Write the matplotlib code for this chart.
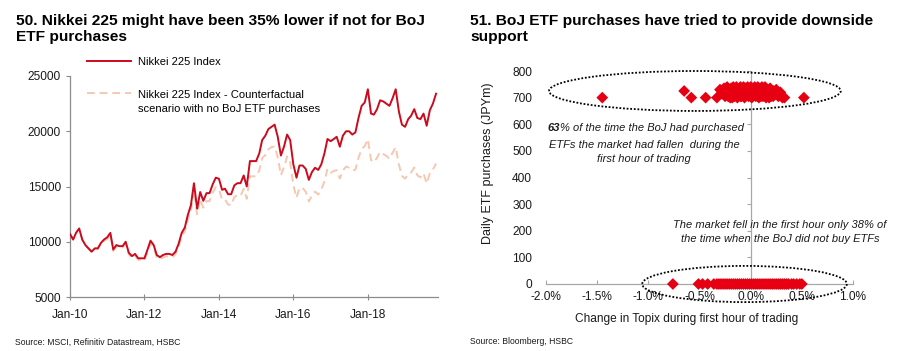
import matplotlib
matplotlib.use("Agg")
import matplotlib.pyplot as plt
import pandas as pd
from matplotlib.patches import Ellipse
from matplotlib.legend_handler import HandlerLine2D
import matplotlib.dates as mdates
import matplotlib.ticker as mticker

plt.rcParams['font.family'] = ['Liberation Sans', 'DejaVu Sans']

# ---------------- data: left chart (monthly levels) ----------------
month_start = "2010-01-01"
month_end = "2019-11-01"
nikkei = [
    10700, 10200, 10800, 11200, 10200, 9700, 9400, 9100, 9400, 9400, 9900, 10200,
    10400, 10800, 9300, 9700, 9600, 9600, 10000, 9000, 8700, 8900, 8500, 8500,
    8500, 9300, 10100, 9700, 8800, 8600, 8800, 8900, 8900, 8800, 9100, 9800,
    10800, 11300, 12400, 13300, 15300, 13000, 14500, 13700, 14400, 14400, 15200, 15800,
    15700, 14700, 14800, 14300, 14300, 15100, 15300, 15300, 16000, 15000, 17300, 17300,
    17300, 18000, 19200, 19600, 20200, 20400, 20600, 19500, 17800, 18600, 19700, 19200,
    17000, 15800, 16900, 16900, 16600, 15600, 16300, 16700, 16500, 17000, 18000, 19300,
    19100, 19300, 19500, 18600, 19600, 20000, 20000, 19700, 19900, 21200, 22300, 22600,
    23800, 21600, 21500, 22000, 22800, 22700, 22500, 22300, 23000, 23800, 21800, 20600,
    20400, 21100, 21400, 22000, 21200, 21100, 21600, 20500, 21900, 22500, 23400,
]
counterfactual = [
    10700, 10200, 10800, 11200, 10200, 9700, 9400, 9100, 9400, 9350, 9850, 10100,
    10240, 10640, 9160, 9550, 9460, 9460, 9850, 8860, 8570, 8770, 8370, 8370,
    8290, 9070, 9850, 9460, 8580, 8390, 8580, 8680, 8680, 8580, 8870, 9550,
    10480, 10960, 11970, 12830, 14690, 12480, 13850, 13080, 13680, 13680, 14440, 14930,
    14760, 13820, 13840, 13370, 13300, 14040, 14230, 14150, 14800, 13880, 15920, 15920,
    15920, 16470, 17570, 17840, 18380, 18560, 18640, 17650, 16020, 16740, 17730, 17180,
    15130, 13980, 14870, 14870, 14530, 13650, 14180, 14530, 14270, 14710, 15480, 16600,
    16240, 16400, 16480, 15720, 16460, 16800, 16700, 16450, 16520, 17600, 18400, 18650,
    19280, 17390, 17200, 17600, 18130, 17930, 17780, 17510, 18060, 18560, 17000, 15970,
    15710, 16140, 16260, 16720, 16010, 15830, 16200, 15270, 16210, 16540, 17080,
]
left_yticks = [5000, 10000, 15000, 20000, 25000]
left_xtick_years = [2010, 2012, 2014, 2016, 2018]

# ---------------- data: right chart ----------------
buy_x = [-1.45, -0.65, -0.58, -0.44, -0.33, -0.30, -0.28, -0.26, -0.25, -0.23,
         -0.22, -0.20, -0.19, -0.18, -0.17, -0.16, -0.15, -0.14, -0.13, -0.12,
         -0.11, -0.10, -0.09, -0.08, -0.07, -0.06, -0.05, -0.04, -0.03, -0.02,
         -0.01, 0.00, 0.01, 0.02, 0.03, 0.04, 0.05, 0.06, 0.07, 0.08,
         0.09, 0.10, 0.11, 0.12, 0.13, 0.14, 0.15, 0.16, 0.18, 0.19,
         0.20, 0.22, 0.24, 0.25, 0.27, 0.29, 0.31, 0.33, 0.52,
         -0.22, -0.18, -0.14, -0.10, -0.06, -0.02, 0.02, 0.06, 0.10, 0.14,
         0.18, -0.12, -0.04, 0.04, 0.12, 0.22, -0.16, 0.08, 0.26, 0.00]
buy_y = [700, 725, 700, 700, 700, 730, 715, 735, 705, 740,
         720, 700, 735, 715, 740, 705, 725, 740, 700, 730,
         715, 740, 705, 725, 740, 700, 735, 715, 740, 705,
         725, 740, 700, 735, 715, 740, 705, 725, 740, 700,
         730, 715, 740, 705, 725, 740, 700, 730, 715, 735,
         705, 725, 715, 730, 705, 720, 700, 700, 700,
         705, 700, 710, 705, 710, 720, 705, 712, 705, 710,
         700, 728, 730, 728, 732, 705, 730, 728, 712, 712]
nobuy_x = [-0.76, -0.51, -0.47, -0.42, -0.36, -0.33, -0.31, -0.29, -0.27, -0.25,
           -0.23, -0.21, -0.19, -0.17, -0.15, -0.13, -0.11, -0.09, -0.07, -0.05,
           -0.03, -0.01, 0.01, 0.03, 0.05, 0.07, 0.09, 0.11, 0.13, 0.15,
           0.17, 0.19, 0.21, 0.23, 0.25, 0.27, 0.29, 0.31, 0.33, 0.35,
           0.37, 0.40, 0.42, 0.45, 0.48, 0.50]
nobuy_y = [0] * len(nobuy_x)
right_xticks = [-2.0, -1.5, -1.0, -0.5, 0.0, 0.5, 1.0]
right_yticks = [0, 100, 200, 300, 400, 500, 600, 700, 800]

# ---------------- figure ----------------
W, H = 900, 351
fig = plt.figure(figsize=(W / 100, H / 100), dpi=100)
fig.patch.set_facecolor("white")

RED = "#CC0A1E"
PEACH = "#F5C8B2"
AXC = "#8C8C8C"
GREY = "#A8A8A8"
TXT = "#1A1A1A"


def fx(px):
    return px / W


def fy(py):
    return 1 - py / H


# titles and sources
fig.text(fx(16), fy(29), "50. Nikkei 225 might have been 35% lower if not for BoJ\nETF purchases",
         fontsize=11.15, fontweight="bold", va="center", ha="left", linespacing=1.13, color="black")
fig.text(fx(470), fy(29), "51. BoJ ETF purchases have tried to provide downside\nsupport",
         fontsize=11.15, fontweight="bold", va="center", ha="left", linespacing=1.13, color="black")
fig.text(fx(15), fy(342), "Source: MSCI, Refinitiv Datastream, HSBC", fontsize=6.2,
         va="center", ha="left", color=TXT)
fig.text(fx(470), fy(342), "Source: Bloomberg, HSBC", fontsize=6.2,
         va="center", ha="left", color=TXT)

# ---------------- left chart ----------------
axl = fig.add_axes([fx(70), fy(297), fx(438 - 70), (297 - 76) / H])
dates = pd.date_range(month_start, month_end, freq="MS")
axl.plot(dates, counterfactual, color=PEACH, lw=1.4, ls=(0, (4, 2.5)),
         label="Nikkei 225 Index - Counterfactual\nscenario with no BoJ ETF purchases", zorder=2)
axl.plot(dates, nikkei, color=RED, lw=1.4,
         label="Nikkei 225 Index", zorder=3)
axl.set_ylim(5000, 25000)
axl.set_xlim(pd.Timestamp("2010-01-01"), pd.Timestamp("2019-11-20"))
axl.set_yticks(left_yticks)
axl.set_xticks([pd.Timestamp(f"{y}-01-01") for y in left_xtick_years])
axl.xaxis.set_major_formatter(mdates.DateFormatter("Jan-%y"))
for s in ["top", "right"]:
    axl.spines[s].set_visible(False)
for s in ["left", "bottom"]:
    axl.spines[s].set_color(AXC)
    axl.spines[s].set_linewidth(0.9)
axl.tick_params(axis="both", colors=AXC, labelcolor=TXT, labelsize=8.6, length=3, width=0.8)
axl.tick_params(axis="x", direction="inout", length=5, pad=6)


class HandlerUp(HandlerLine2D):
    def __init__(self, shift, **kw):
        super().__init__(**kw)
        self.shift = shift

    def create_artists(self, legend, orig_handle, xdescent, ydescent, width, height,
                       fontsize, trans):
        arts = super().create_artists(legend, orig_handle, xdescent, ydescent, width,
                                      height, fontsize, trans)
        for a in arts:
            a.set_ydata([y + self.shift for y in a.get_ydata()])
        return arts


handles, labels = axl.get_legend_handles_labels()
leg = axl.legend(handles[::-1], labels[::-1], loc="upper left",
                 bbox_to_anchor=((87 - 70) / 368, (297 - 57) / 221),
                 frameon=False, fontsize=8, handlelength=4.0, handletextpad=0.6,
                 labelspacing=2.1, borderpad=0, borderaxespad=0,
                 handler_map={handles[0]: HandlerUp(6.5)})
for t in leg.get_texts():
    t.set_linespacing(1.45)

# ---------------- right chart ----------------
axr = fig.add_axes([fx(546), fy(284), fx(853 - 546), (284 - 71) / H])
axr.axvline(0, color=GREY, lw=0.9, zorder=1)
axr.scatter(buy_x, buy_y, marker="D", s=36, color="#E60012", edgecolors="none", zorder=3)
axr.scatter(nobuy_x, nobuy_y, marker="D", s=36, color="#E60012", edgecolors="none",
            zorder=3, clip_on=False)
axr.set_xlim(-2.0, 1.0)
axr.set_ylim(0, 800)
axr.set_xticks(right_xticks)
axr.set_yticks(right_yticks)
axr.xaxis.set_major_formatter(mticker.FuncFormatter(lambda v, p: f"{v:.1f}%"))
for s in ["top", "right", "left"]:
    axr.spines[s].set_visible(False)
axr.spines["bottom"].set_color(GREY)
axr.spines["bottom"].set_linewidth(0.9)
axr.tick_params(axis="x", direction="in", colors=GREY, labelcolor=TXT,
                labelsize=8.6, length=3, pad=5)
axr.tick_params(axis="y", length=0, labelsize=8.6, labelcolor=TXT, pad=10)
# tick marks on the vertical zero line
sec = axr.secondary_yaxis(2 / 3)
sec.set_yticks(right_yticks)
sec.yaxis.set_ticks_position("left")
sec.tick_params(axis="y", labelleft=False, labelright=False, colors=GREY,
                length=3, width=0.8, direction="out")
for s in sec.spines.values():
    s.set_visible(False)

axr.set_ylabel("Daily ETF purchases (JPYm)", fontsize=9, color=TXT)
axr.yaxis.set_label_coords(-0.17, 0.568)
axr.set_xlabel("Change in Topix during first hour of trading", fontsize=8.6, color=TXT)
axr.xaxis.set_label_coords(0.459, -0.135)

e1 = Ellipse((-0.545, 725), 2.85, 150, fill=False, ls=(0, (1, 1)), lw=1.3,
             edgecolor="black", clip_on=False, zorder=4)
e2 = Ellipse((-0.06, 0), 2.0, 136, fill=False, ls=(0, (1, 1)), lw=1.3,
             edgecolor="black", clip_on=False, zorder=4)
axr.add_patch(e1)
axr.add_patch(e2)

t1 = axr.text(-1.99, 586, "63", fontsize=8, fontstyle="italic", fontweight="bold",
              ha="left", va="center", color=TXT)
axr.annotate("% of the time the BoJ had purchased", xy=(1, 0.5), xycoords=t1,
             fontsize=8, fontstyle="italic", ha="left", va="center", color=TXT)
axr.text(-1.04, 496, "ETFs the market had fallen  during the\nfirst hour of trading",
         fontsize=8, fontstyle="italic", ha="center", va="center", color=TXT,
         linespacing=1.45)
axr.text(0.287, 195, "The market fell in the first hour only 38% of\nthe time when the BoJ did not buy ETFs",
         fontsize=8, fontstyle="italic", ha="center", va="center", color=TXT,
         linespacing=1.45)

fig.savefig("out.png", dpi=100, facecolor="white")
